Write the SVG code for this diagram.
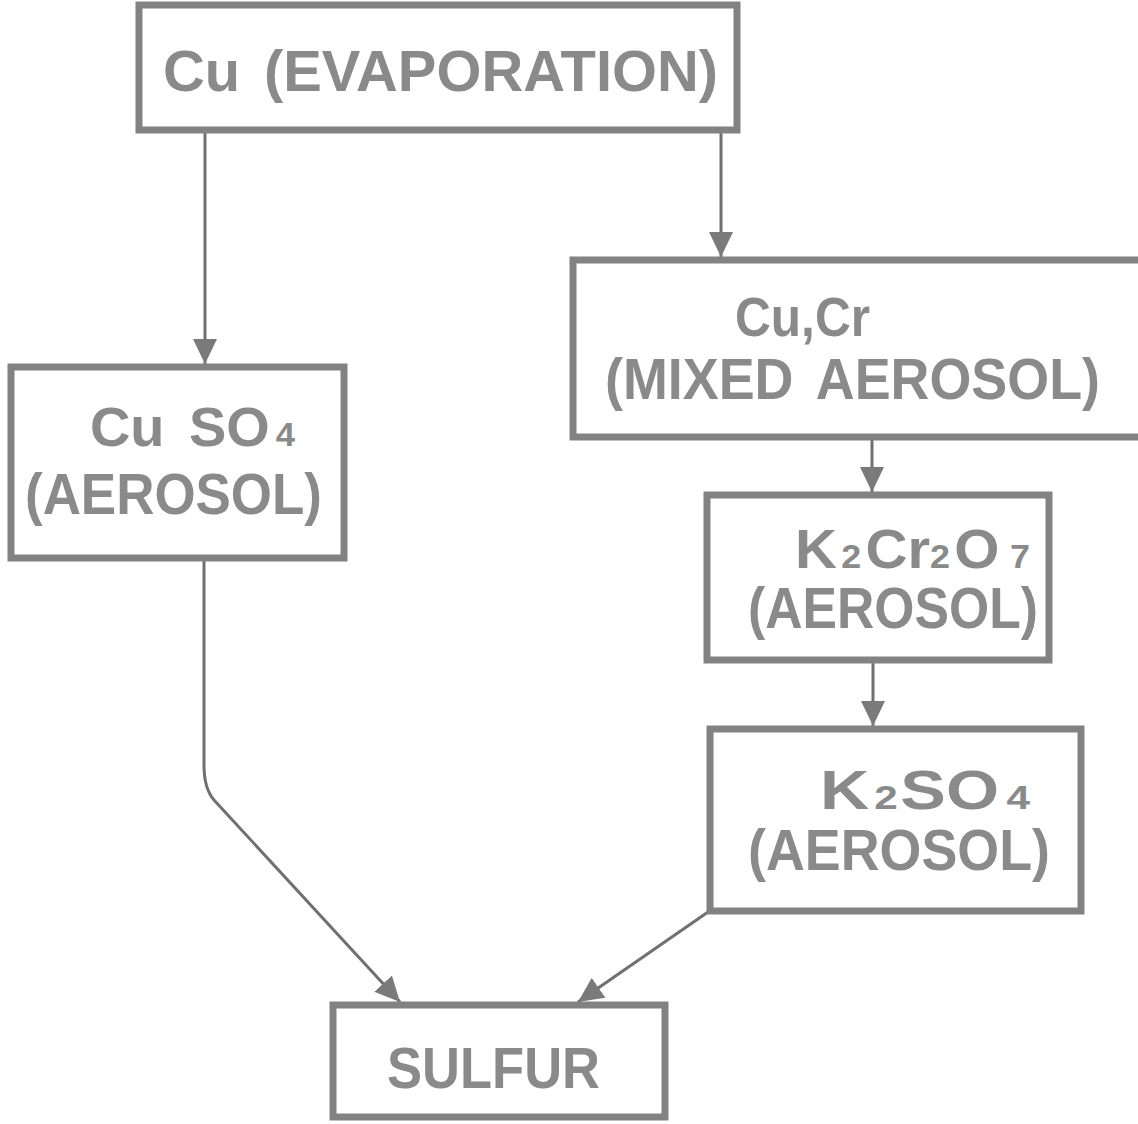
<svg xmlns="http://www.w3.org/2000/svg" width="1138" height="1124" viewBox="0 0 1138 1124">
<style>
.box{fill:#fff;stroke:#828282;stroke-width:7}
.t{font-family:"Liberation Sans",Arial,sans-serif;font-weight:bold;font-size:58px;fill:#8a8a8a}
.f{font-size:55px}
.s{font-size:34px}
.c{fill:none;stroke:#707070;stroke-width:3}
</style>
<defs>
<marker id="ah" markerUnits="userSpaceOnUse" markerWidth="26" markerHeight="24" refX="25" refY="12" orient="auto">
<path d="M0,0 L25,12 L0,24 z" fill="#7a7a7a"/>
</marker>
</defs>
<rect width="1138" height="1124" fill="#fff"/>
<g id="connectors">
<path class="c" d="M205 133 L205 364" marker-end="url(#ah)"/>
<path class="c" d="M721 133 L721 257" marker-end="url(#ah)"/>
<path class="c" d="M872 440 L872 492" marker-end="url(#ah)"/>
<path class="c" d="M873 663 L873 726" marker-end="url(#ah)"/>
<path class="c" d="M204 561 L204 765 C204 782 207 792 214 800 L400 1002" marker-end="url(#ah)"/>
<path class="c" d="M708 912 L578 1002" marker-end="url(#ah)"/>
</g>
<g id="n-cu">
<rect class="box" x="139" y="5" width="598" height="125"/>
<text class="t" x="163" y="91" font-size="63" textLength="555" lengthAdjust="spacingAndGlyphs">Cu<tspan dx="24">(EVAPORATION)</tspan></text>
</g>
<g id="n-cuso4">
<rect class="box" x="11" y="367" width="333" height="191"/>
<text class="t f" x="90" y="446" textLength="205" lengthAdjust="spacingAndGlyphs">Cu<tspan dx="24">SO</tspan><tspan class="s" dx="6">4</tspan></text>
<text class="t" x="25" y="514" textLength="297" lengthAdjust="spacingAndGlyphs">(AEROSOL)</text>
</g>
<g id="n-mixed">
<path class="box" d="M1142 260 L573 260 L573 437 L1142 437"/>
<text class="t f" x="735" y="336" textLength="135" lengthAdjust="spacingAndGlyphs">Cu,Cr</text>
<text class="t" x="605" y="399" font-size="56" textLength="495" lengthAdjust="spacingAndGlyphs">(MIXED<tspan dx="24">AEROSOL)</tspan></text>
</g>
<g id="n-k2cr2o7">
<rect class="box" x="707" y="495" width="342" height="165"/>
<text class="t f" x="795" y="568" textLength="235" lengthAdjust="spacingAndGlyphs">K<tspan class="s" dx="4">2</tspan><tspan dx="4">Cr</tspan><tspan class="s">2</tspan><tspan dx="4">O</tspan><tspan class="s" dx="10">7</tspan></text>
<text class="t" x="748" y="628" textLength="290" lengthAdjust="spacingAndGlyphs">(AEROSOL)</text>
</g>
<g id="n-k2so4">
<rect class="box" x="710" y="729" width="371" height="182"/>
<text class="t f" x="820" y="809" textLength="210" lengthAdjust="spacingAndGlyphs">K<tspan class="s" dx="4">2</tspan><tspan dx="2">SO</tspan><tspan class="s" dx="6">4</tspan></text>
<text class="t" x="748" y="870" textLength="302" lengthAdjust="spacingAndGlyphs">(AEROSOL)</text>
</g>
<g id="n-sulfur">
<rect class="box" x="333" y="1005" width="332" height="112"/>
<text class="t" x="387" y="1088" font-size="60" textLength="213" lengthAdjust="spacingAndGlyphs">SULFUR</text>
</g>
</svg>
